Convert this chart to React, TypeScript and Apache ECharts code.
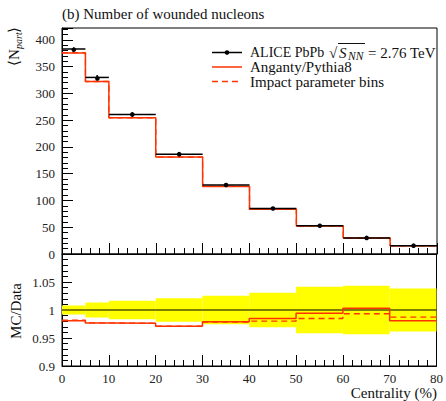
import React, { useEffect, useRef } from "react";
import * as echarts from "echarts";

// ---- data ----
const binEdges = [0, 5, 10, 20, 30, 40, 50, 60, 70, 80];
const aliceNpart = [382.8, 329.7, 260.5, 186.4, 128.9, 85.0, 52.8, 30.0, 15.6];
const aliceErr = [3.1, 4.4, 4.3, 3.9, 3.3, 2.6, 2.2, 1.3, 0.6];
const angantyNpart = [375.5, 322.1, 254.3, 181.0, 126.2, 83.7, 52.5, 30.1, 15.3];
const impactNpart = [375.9, 322.1, 254.3, 181.0, 126.1, 83.3, 52.0, 29.8, 15.4];

const titleText = "(b) Number of wounded nucleons";
const xTitle = "Centrality (%)";
const ratioTitle = "MC/Data";
const legendAlice = ["ALICE PbPb", "\u221A", "S", "NN", "= 2.76 TeV"];
const legendAnganty = "Anganty/Pythia8";
const legendImpact = "Impact parameter bins";

const FONT = "'Liberation Serif', 'DejaVu Serif', serif";
const RED = "#ff3300";

const stepData = (vals: number[]) => {
  const d = vals.map((v, i) => [binEdges[i], v]);
  d.push([binEdges[binEdges.length - 1], vals[vals.length - 1]]);
  return d;
};
const ratio = (vals: number[]) => vals.map((v, i) => v / aliceNpart[i]);

export default function App() {
  const ref = useRef<HTMLDivElement>(null);
  useEffect(() => {
    if (!ref.current) return;
    const chart = echarts.init(ref.current, undefined, { renderer: "svg" });

    const pointData = aliceNpart.map((v, i) => [binEdges[i], binEdges[i + 1], v, aliceErr[i]]);
    const bandData = aliceNpart.map((v, i) => [binEdges[i], binEdges[i + 1], aliceErr[i] / v]);

    const tickCommon = {
      axisLine: { show: true, lineStyle: { color: "#000", width: 1 } },
      axisTick: { show: true, inside: true, length: 11, lineStyle: { color: "#000", width: 1 } },
      minorTick: { show: true, splitNumber: 5, length: 6, lineStyle: { color: "#000", width: 1 } },
      splitLine: { show: false },
      minorSplitLine: { show: false },
    };
    const labelStyle = { fontFamily: FONT, fontSize: 13, color: "#222" };

    const option: any = {
      animation: false,
      grid: [
        { left: 62, top: 28, width: 375, height: 226, show: true, borderColor: "#000", borderWidth: 1, backgroundColor: "transparent" },
        { left: 62, top: 254, width: 375, height: 112, show: true, borderColor: "#000", borderWidth: 1, backgroundColor: "transparent" },
      ],
      xAxis: [
        { type: "value", gridIndex: 0, min: 0, max: 80, interval: 10, ...tickCommon, axisLabel: { show: false } },
        {
          type: "value", gridIndex: 1, min: 0, max: 80, interval: 10, ...tickCommon,
          axisLabel: { ...labelStyle, margin: 6 },
        },
      ],
      yAxis: [
        {
          type: "value", gridIndex: 0, min: 0, max: 422, interval: 50, ...tickCommon,
          axisLabel: { ...labelStyle, margin: 7, showMaxLabel: false },
        },
        {
          type: "value", gridIndex: 1, min: 0.9, max: 1.1, interval: 0.05, ...tickCommon,
          axisTick: { show: true, inside: true, length: 10, lineStyle: { color: "#000", width: 1 } },
          axisLabel: {
            ...labelStyle, margin: 7, showMaxLabel: false,
            formatter: (v: number) => String(+v.toFixed(2)),
          },
        },
      ],
      series: [
        // ---- top panel ----
        {
          type: "line", xAxisIndex: 0, yAxisIndex: 0, step: "end", symbol: "none",
          data: stepData(impactNpart), lineStyle: { color: RED, width: 1.3, type: [6, 4] }, z: 3,
        },
        {
          type: "line", xAxisIndex: 0, yAxisIndex: 0, step: "end", symbol: "none",
          data: stepData(angantyNpart), lineStyle: { color: RED, width: 1.5 }, z: 4,
        },
        {
          type: "custom", xAxisIndex: 0, yAxisIndex: 0, z: 5,
          data: pointData,
          renderItem: (_p: any, api: any) => {
            const x0 = api.value(0), x1 = api.value(1), v = api.value(2), e = api.value(3);
            const xc = (x0 + x1) / 2;
            const a = api.coord([x0, v]);
            const b = api.coord([x1, v]);
            const c = api.coord([xc, v]);
            const up = api.coord([xc, v + e]);
            const dn = api.coord([xc, v - e]);
            return {
              type: "group",
              children: [
                { type: "line", shape: { x1: a[0], y1: a[1], x2: b[0], y2: b[1] }, style: { stroke: "#000", lineWidth: 1.5 } },
                { type: "line", shape: { x1: up[0], y1: up[1], x2: dn[0], y2: dn[1] }, style: { stroke: "#000", lineWidth: 1.5 } },
                { type: "circle", shape: { cx: c[0], cy: c[1], r: 2.3 }, style: { fill: "#000" } },
              ],
            };
          },
        },
        // ---- ratio panel ----
        {
          type: "custom", xAxisIndex: 1, yAxisIndex: 1, z: 1,
          data: bandData,
          renderItem: (_p: any, api: any) => {
            const x0 = api.value(0), x1 = api.value(1), e = api.value(2);
            const p0 = api.coord([x0, 1 + e]);
            const p1 = api.coord([x1, 1 - e]);
            return {
              type: "rect",
              shape: { x: p0[0], y: p0[1], width: p1[0] - p0[0], height: p1[1] - p0[1] },
              style: { fill: "#ffff00" },
            };
          },
        },
        {
          type: "line", xAxisIndex: 1, yAxisIndex: 1, symbol: "none", z: 2,
          data: [[0, 1], [80, 1]], lineStyle: { color: "#000", width: 1.2 },
        },
        {
          type: "line", xAxisIndex: 1, yAxisIndex: 1, step: "end", symbol: "none", z: 3,
          data: stepData(ratio(impactNpart)), lineStyle: { color: RED, width: 1.3, type: [6, 4] },
        },
        {
          type: "line", xAxisIndex: 1, yAxisIndex: 1, step: "end", symbol: "none", z: 4,
          data: stepData(ratio(angantyNpart)), lineStyle: { color: RED, width: 1.5 },
        },
      ],
      graphic: [
        { type: "text", x: 62, y: 14, style: { text: titleText, font: `15px ${FONT}`, fill: "#111", textVerticalAlign: "middle", textAlign: "left" } },
        { type: "text", x: 437, y: 393, style: { text: xTitle, font: `15px ${FONT}`, fill: "#111", textVerticalAlign: "middle", textAlign: "right" } },
        { type: "text", x: 16, y: 311, rotation: Math.PI / 2, style: { text: ratioTitle, font: `15px ${FONT}`, fill: "#111", textVerticalAlign: "middle", textAlign: "center" } },
        {
          type: "group", x: 14, y: 66, rotation: Math.PI / 2,
          children: [
            { type: "text", x: 0, y: 0, style: { text: "\u27E8", font: `15px ${FONT}`, fill: "#111", textVerticalAlign: "middle", textAlign: "left" } },
            { type: "text", x: 6, y: 0, style: { text: "N", font: `15px ${FONT}`, fill: "#111", textVerticalAlign: "middle", textAlign: "left" } },
            { type: "text", x: 17, y: 4, style: { text: "part", font: `italic 10px ${FONT}`, fill: "#111", textVerticalAlign: "middle", textAlign: "left" } },
            { type: "text", x: 33, y: 0, style: { text: "\u27E9", font: `15px ${FONT}`, fill: "#111", textVerticalAlign: "middle", textAlign: "left" } },
          ],
        },
        // legend
        { type: "line", shape: { x1: 212, y1: 52.5, x2: 242, y2: 52.5 }, style: { stroke: "#000", lineWidth: 1.5 } },
        { type: "circle", shape: { cx: 227, cy: 52.5, r: 2.3 }, style: { fill: "#000" } },
        { type: "text", x: 250, y: 52.5, style: { text: legendAlice[0], font: `14px ${FONT}`, fill: "#111", textVerticalAlign: "middle" } },
        { type: "text", x: 329, y: 52.5, style: { text: legendAlice[1], font: `15px ${FONT}`, fill: "#111", textVerticalAlign: "middle" } },
        { type: "line", shape: { x1: 338, y1: 43.5, x2: 365, y2: 43.5 }, style: { stroke: "#111", lineWidth: 1 } },
        { type: "text", x: 339, y: 52.5, style: { text: legendAlice[2], font: `italic 15px ${FONT}`, fill: "#111", textVerticalAlign: "middle" } },
        { type: "text", x: 348, y: 56, style: { text: legendAlice[3], font: `italic 11.5px ${FONT}`, fill: "#111", textVerticalAlign: "middle" } },
        { type: "text", x: 368, y: 52.5, style: { text: legendAlice[4], font: `15px ${FONT}`, fill: "#111", textVerticalAlign: "middle" } },
        { type: "line", shape: { x1: 212, y1: 67, x2: 242, y2: 67 }, style: { stroke: RED, lineWidth: 1.5 } },
        { type: "text", x: 250, y: 67, style: { text: legendAnganty, font: `15px ${FONT}`, fill: "#111", textVerticalAlign: "middle" } },
        { type: "line", shape: { x1: 212, y1: 81.5, x2: 242, y2: 81.5 }, style: { stroke: RED, lineWidth: 1.3, lineDash: [6, 4] } },
        { type: "text", x: 250, y: 81.5, style: { text: legendImpact, font: `15px ${FONT}`, fill: "#111", textVerticalAlign: "middle" } },
      ],
    };
    chart.setOption(option);
    return () => chart.dispose();
  }, []);
  return <div ref={ref} style={{ width: 446, height: 401, position: "absolute", left: 0, top: 0 }} />;
}
